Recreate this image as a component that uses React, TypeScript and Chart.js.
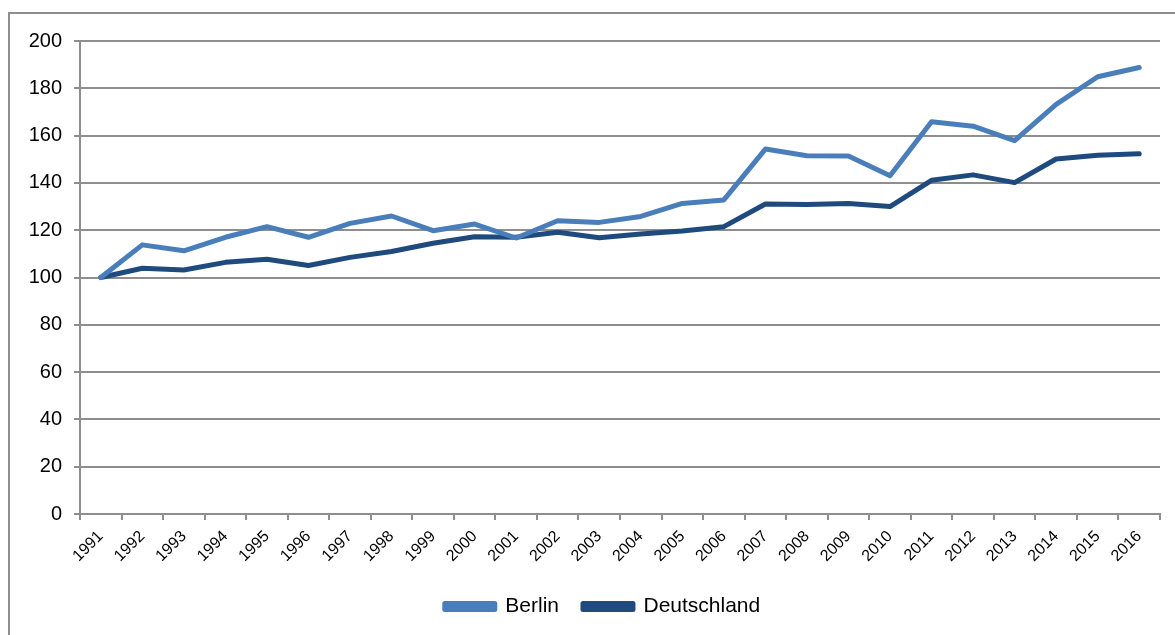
import React, { useEffect, useRef } from "react";
import { Chart, registerables } from "chart.js";

Chart.register(...registerables);

const years = [
  "1991", "1992", "1993", "1994", "1995", "1996", "1997", "1998", "1999", "2000",
  "2001", "2002", "2003", "2004", "2005", "2006", "2007", "2008", "2009", "2010",
  "2011", "2012", "2013", "2014", "2015", "2016",
];

const berlin = [
  100, 113.8, 111.3, 117, 121.5, 117, 122.9, 126, 119.8, 122.6,
  116.7, 124, 123.3, 125.8, 131.3, 132.8, 154.3, 151.5, 151.4, 143,
  165.9, 164, 157.9, 173.2, 184.9, 188.8,
];

const deutschland = [
  100, 103.9, 103.2, 106.4, 107.7, 105.1, 108.5, 111, 114.5, 117.2,
  117, 119.1, 116.8, 118.4, 119.7, 121.5, 131.1, 130.9, 131.3, 130,
  141.1, 143.4, 140.1, 150.1, 151.7, 152.3,
];

const yTicks = [0, 20, 40, 60, 80, 100, 120, 140, 160, 180, 200];

const GRID = "#8e8e8e";
const FONT = "Liberation Sans, Arial, sans-serif";

const legendShift = {
  id: "legendShift",
  afterLayout(chart: any) {
    if (chart.legend) {
      chart.legend.left += 12.5;
      chart.legend.right += 12.5;
    }
  },
};

export default function App() {
  const ref = useRef<HTMLCanvasElement | null>(null);

  useEffect(() => {
    document.body.style.margin = "0";
    document.body.style.overflow = "hidden";
    const ctx = ref.current!.getContext("2d")!;
    const chart = new Chart(ctx, {
      type: "line",
      data: {
        labels: years,
        datasets: [
          {
            label: "Berlin",
            data: berlin,
            borderColor: "#4a7ebb",
            backgroundColor: "#4a7ebb",
            borderWidth: 5,
            pointRadius: 0,
            tension: 0,
            borderCapStyle: "round",
            borderJoinStyle: "round",
          },
          {
            label: "Deutschland",
            data: deutschland,
            borderColor: "#1f4a7e",
            backgroundColor: "#1f4a7e",
            borderWidth: 5,
            pointRadius: 0,
            tension: 0,
            borderCapStyle: "round",
            borderJoinStyle: "round",
          },
        ],
      },
      options: {
        animation: false,
        responsive: false,
        maintainAspectRatio: false,
        layout: { padding: { left: 20, top: 41, right: 15, bottom: 8 } },
        plugins: {
          tooltip: { enabled: false },
          legend: {
            position: "bottom",
            labels: {
              boxWidth: 50,
              boxHeight: 6,
              padding: 24,
              color: "#000",
              font: { family: FONT, size: 21 },
            },
          },
        },
        scales: {
          x: {
            offset: true,
            grid: {
              offset: true,
              drawOnChartArea: false,
              drawTicks: true,
              tickLength: 6,
              color: GRID,
              lineWidth: 2,
            },
            border: { color: GRID, width: 2 },
            ticks: {
              maxRotation: 45,
              minRotation: 45,
              autoSkip: false,
              padding: 7,
              color: "#000",
              font: { family: FONT, size: 16 },
            },
            afterFit: (scale: any) => {
              scale.height = 58;
            },
          },
          y: {
            min: 0,
            max: 200,
            afterBuildTicks: (scale: any) => {
              scale.ticks = yTicks.map((v) => ({ value: v }));
            },
            grid: {
              color: GRID,
              lineWidth: 2,
              tickLength: 6,
            },
            border: { color: GRID, width: 2 },
            ticks: {
              padding: 12,
              color: "#000",
              font: { family: FONT, size: 20 },
            },
            afterFit: (scale: any) => {
              scale.width = 60;
            },
          },
        },
      },
      plugins: [legendShift],
    });
    return () => chart.destroy();
  }, []);

  return (
    <div style={{ position: "fixed", left: 0, top: 0, width: 1175, height: 635, overflow: "hidden", background: "#fff" }}>
      <div
        style={{
          position: "absolute",
          left: 8,
          top: 12,
          width: 1200,
          height: 700,
          border: "2px solid #8e8e8e",
          boxSizing: "border-box",
        }}
      />
      <canvas ref={ref} width={1175} height={635} style={{ position: "absolute", left: 0, top: 0 }} />
    </div>
  );
}
